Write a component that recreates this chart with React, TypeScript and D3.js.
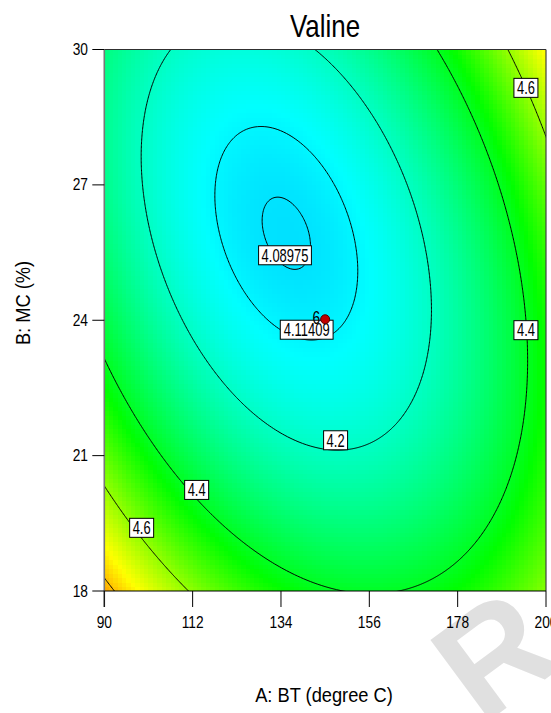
import React from 'react';
import * as d3 from 'd3';

const title = 'Valine';
const xTitle = 'A: BT (degree C)';
const yTitle = 'B: MC (%)';
const xTicks = [90, 112, 134, 156, 178, 200];
const yTicks = [18, 21, 24, 27, 30];
const xDomain = [90, 200];
const yDomain = [18, 30];
// quadratic response-surface coefficients (coded units): intercept, A, B, AB, A^2, B^2
const coefIntercept = 4.1069;
const coefLinear = [0.0496, -0.0992];
const coefInteraction = 0.174;
const coefQuadratic = [0.3, 0.202];
const contourLevels = [4.08975, 4.11409, 4.2, 4.4, 4.6, 4.8];
const labelTexts = ['4.08975', '4.11409', '4.2', '4.4', '4.4', '4.6', '4.6'];
const labelA = [135.0, 140.4, 147.6, 195.0, 113.0, 195.0, 99.3];
const labelB = [25.44, 23.79, 21.34, 23.78, 20.24, 29.15, 19.4];
const designA = [145];
const designB = [24];
const designCount = ['6'];
const colorValues = [4.087, 4.2, 4.4, 4.6, 4.836];
const colorHues = [187, 166, 128, 85, 38];

const W = 551;
const H = 713;
const FONT = "'Liberation Sans', Arial, sans-serif";

function response(A: number, B: number): number {
  const cA = (xDomain[0] + xDomain[1]) / 2, hA = (xDomain[1] - xDomain[0]) / 2;
  const cB = (yDomain[0] + yDomain[1]) / 2, hB = (yDomain[1] - yDomain[0]) / 2;
  const a = (A - cA) / hA;
  const b = (B - cB) / hB;
  return coefIntercept + coefLinear[0] * a + coefLinear[1] * b + coefInteraction * a * b +
    coefQuadratic[0] * a * a + coefQuadratic[1] * b * b;
}

function NText({ x, y, size, sx, anchor, rotate, children, weight }: any) {
  const tr = `translate(${x},${y})` + (rotate ? ` rotate(${rotate})` : '') + ` scale(${sx},1)`;
  return (
    <text transform={tr} fontSize={size} fontFamily={FONT} textAnchor={anchor || 'middle'} fill="#000" fontWeight={weight || 'normal'}>
      {children}
    </text>
  );
}

function textWidth(s: string, size: number, sx: number) {
  let w = 0;
  for (const ch of s) w += ch === '.' ? 0.278 : 0.556;
  return w * size * sx;
}

export default function App() {
  const x = d3.scaleLinear().domain(xDomain).range([104.3, 546]);
  const y = d3.scaleLinear().domain(yDomain).range([591, 49.5]);
  const hue = d3.scaleLinear().domain(colorValues).range(colorHues).clamp(true);
  const color = (v: number) => d3.hsl(hue(v), 1, 0.5).formatHex();

  // surface cells
  const nCols = 100, nRows = 120;
  const cells: any[] = [];
  for (let i = 0; i < nCols; i++) {
    const a0 = xDomain[0] + (i * (xDomain[1] - xDomain[0])) / nCols;
    const a1 = xDomain[0] + ((i + 1) * (xDomain[1] - xDomain[0])) / nCols;
    for (let j = 0; j < nRows; j++) {
      const b0 = yDomain[0] + (j * (yDomain[1] - yDomain[0])) / nRows;
      const b1 = yDomain[0] + ((j + 1) * (yDomain[1] - yDomain[0])) / nRows;
      const v = response((a0 + a1) / 2, (b0 + b1) / 2);
      cells.push(
        <rect key={i + '-' + j} x={x(a0)} y={y(b1)} width={x(a1) - x(a0) + 0.6} height={y(b0) - y(b1) + 0.6} fill={color(v)} />
      );
    }
  }

  // contour lines on an extended grid, clipped to the plot
  const A0 = 80, dA = 0.25, nx = 521;
  const B0 = 16.5, dB = 0.03, ny = 501;
  const values = new Array(nx * ny);
  for (let j = 0; j < ny; j++) for (let i = 0; i < nx; i++) values[j * nx + i] = response(A0 + i * dA, B0 + j * dB);
  const contours = d3.contours().size([nx, ny]).thresholds(contourLevels)(values);
  const proj = d3.geoTransform({
    point: function (gx: number, gy: number) {
      (this as any).stream.point(x(A0 + (gx - 0.5) * dA), y(B0 + (gy - 0.5) * dB));
    },
  });
  const pathGen = d3.geoPath(proj as any);

  const px0 = x(xDomain[0]), px1 = x(xDomain[1]);
  const py0 = y(yDomain[1]), py1 = y(yDomain[0]);

  return (
    <svg width={W} height={H} style={{ position: 'absolute', left: 0, top: 0, display: 'block', background: '#fff' }}>
      <defs>
        <clipPath id="plotclip">
          <rect x={px0} y={py0} width={px1 - px0} height={py1 - py0} />
        </clipPath>
      </defs>
      {/* watermark */}
      <text transform="translate(482,726) rotate(-36.5)" fontSize={145} fontWeight="bold" fontFamily={FONT} fill="#e0e0e0">R</text>

      <g clipPath="url(#plotclip)" shapeRendering="crispEdges">{cells}</g>
      <g clipPath="url(#plotclip)">
        {contours.map((c: any, k: number) => (
          <path key={k} d={pathGen(c) || ''} fill="none" stroke="#000" strokeWidth={1} />
        ))}
      </g>

      {/* frame */}
      <line x1={px0} x2={px1} y1={py0} y2={py0} stroke="#303030" strokeWidth={1.2} />
      <line x1={px1} x2={px1} y1={py0} y2={py1} stroke="#404040" strokeWidth={1.2} />
      <line x1={px0} x2={px0} y1={py0} y2={py1 + 16} stroke="#777" strokeWidth={1.6} />
      <line x1={px0} x2={px1} y1={py1} y2={py1} stroke="#000" strokeWidth={1.2} />

      {xTicks.map((t) => (
        <g key={'xt' + t}>
          <line x1={x(t)} x2={x(t)} y1={py1} y2={py1 + 16} stroke="#000" strokeWidth={1} />
          <NText x={x(t)} y={627.5} size={16} sx={0.86}>{String(t)}</NText>
        </g>
      ))}
      {yTicks.map((t) => (
        <g key={'yt' + t}>
          <line x1={px0 - 12} x2={px0} y1={y(t)} y2={y(t)} stroke="#000" strokeWidth={1} />
          <NText x={88} y={y(t) + 5.5} size={16} sx={0.86} anchor="end">{String(t)}</NText>
        </g>
      ))}

      {/* contour labels */}
      {labelTexts.map((s, k) => {
        const cx = x(labelA[k]);
        const cy = y(labelB[k]);
        const w = textWidth(s, 17.5, 0.74) + 6;
        const h = 19;
        return (
          <g key={'lab' + k}>
            <rect x={cx - w / 2} y={cy - h / 2} width={w} height={h} fill="#fff" stroke="#000" strokeWidth={1} />
            <NText x={cx} y={cy + 6.3} size={17.5} sx={0.74}>{s}</NText>
          </g>
        );
      })}

      {/* design point */}
      {designA.map((a, k) => (
        <g key={'dp' + k}>
          <NText x={x(a) - 5} y={y(designB[k]) + 3.5} size={18} sx={0.76} anchor="end">{designCount[k]}</NText>
          <circle cx={x(a)} cy={y(designB[k]) - 1} r={4.5} fill="#c00000" stroke="#500000" strokeWidth={1} />
        </g>
      ))}

      <NText x={325} y={37} size={32} sx={0.81}>{title}</NText>
      <NText x={324} y={702} size={21} sx={0.87}>{xTitle}</NText>
      <NText x={30} y={303} size={21} sx={0.87} rotate={-90}>{yTitle}</NText>
    </svg>
  );
}
